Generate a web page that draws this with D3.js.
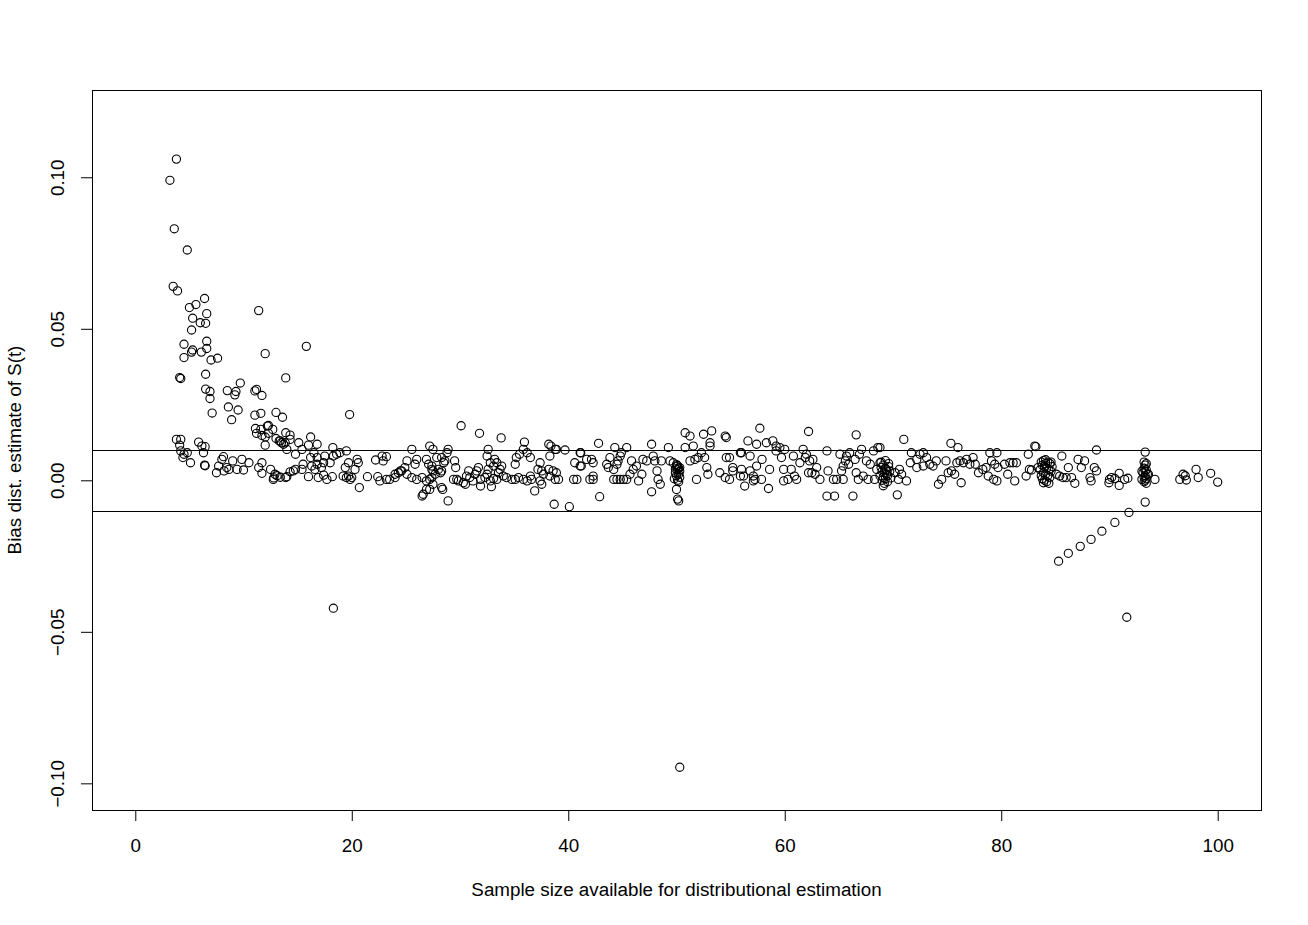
<!DOCTYPE html>
<html>
<head>
<meta charset="utf-8">
<script src="https://cdn.jsdelivr.net/npm/d3@7"></script>
<style>
  body { margin: 0; background: #fff; }
  text { font-family: "Liberation Sans", Arial, Helvetica, sans-serif; }
</style>
</head>
<body>
<div id="chart"></div>
<script>

// [sample size, bias]
var steepPts = [
  [3.8,0.106],[3.2,0.099],[3.6,0.083],[4.8,0.076],[3.5,0.064],[3.9,0.0625],[6.4,0.060],[5.6,0.058],
  [5.0,0.057],[6.6,0.055],[11.4,0.056],[5.3,0.0535],[6.0,0.052],[6.5,0.0518],[5.2,0.0496],[6.6,0.0459],
  [4.5,0.0449],[6.6,0.0435],[5.3,0.043],[5.2,0.0423],[6.1,0.0423],[4.5,0.0405],[7.0,0.0397],[7.6,0.0403],
  [12.0,0.0418],[15.8,0.0442],[6.5,0.035],[4.1,0.0339],[4.2,0.0336],[13.9,0.0338],[6.5,0.0301],[6.9,0.0293],
  [6.9,0.027],[8.5,0.0296],[9.2,0.0282],[9.3,0.0293],[9.7,0.0321],[11.05,0.0295],[11.2,0.030],[11.7,0.028],
  [7.1,0.0222],[8.6,0.0242],[9.5,0.0232],[8.9,0.020],[11.05,0.0215],[11.6,0.0221],[13.0,0.0224],[13.6,0.0208],
  [19.8,0.0217],[11.1,0.0171],[11.6,0.0168],[12.2,0.0179],[12.7,0.0168],[12.3,0.0181],[13.9,0.0157],[14.3,0.0149],
  [16.2,0.0143],[11.2,0.0155],[11.7,0.0148],[12.3,0.0155],[12.0,0.0143],[12.0,0.0116],[13.0,0.0138],[13.3,0.013],
  [13.5,0.0124],[13.85,0.0124],[14.0,0.0102],[14.3,0.0135],[3.8,0.0135],[4.2,0.0135],[4.1,0.0116],[4.2,0.0097],
  [4.5,0.0086],[4.8,0.0091],[5.1,0.0058],[4.4,0.0075],[5.85,0.0126],[6.15,0.0113],[6.45,0.0111],[6.3,0.0091],
  [6.4,0.005],[6.45,0.0048],[8.15,0.0078],[8.0,0.0069],[7.7,0.0047],[7.5,0.0025],[8.2,0.0031],[8.45,0.0042],
  [8.65,0.0036],[9.0,0.0064],[9.4,0.0036],[9.85,0.0069],[10.0,0.0034],[10.5,0.0058],[11.4,0.0042],[11.7,0.0058],
  [11.7,0.0023],[12.5,0.0036],[12.9,0.002],[12.75,0.0003],[13.4,0.001],[13.1,0.0015],[13.9,0.0009],[12.8,0.0008]
];

var bandLeftPts = [
  [13.4,0.013],[13.7,0.0119],[15.1,0.0124],[15.4,0.0102],[14.8,0.0086],[16.0,0.0116],[16.8,0.0119],[16.5,0.0091],
  [16.8,0.0075],[18.25,0.0108],[18.6,0.0086],[18.3,0.008],[18.9,0.0091],[19.5,0.0097],[17.5,0.008],[17.4,0.0058],
  [18.0,0.0058],[17.2,0.0042],[16.8,0.0053],[16.3,0.0047],[16.2,0.0075],[15.5,0.0053],[15.4,0.0036],[14.6,0.0031],
  [14.8,0.0036],[14.3,0.0028],[14.0,0.0012],[16.0,0.0012],[16.6,0.0036],[16.9,0.0009],[17.4,0.0017],[17.7,0.0003],
  [18.2,0.0012],[19.2,0.0014],[19.5,0.0009],[19.7,0.0014],[19.85,0.0003],[20.0,0.0009],[19.4,0.0042],[19.7,0.0058],
  [20.5,0.0069],[20.6,0.0058],[20.3,0.0036],[20.7,-0.0024],[21.45,0.0012],[22.4,0.0012],[22.6,-0.0002],[23.2,0.0003],
  [24.0,0.002],[24.5,0.0031],[24.9,0.0042],[25.1,0.0064],[25.55,0.0102],[26.0,0.0069],[25.85,0.0053],[22.2,0.0067],
  [22.8,0.008],[23.2,0.0078],[22.9,0.0064],[23.5,0.0003],[24.0,0.0009],[24.3,0.0025],[24.6,0.0031],[25.1,0.002],
  [25.55,0.0009],[26.0,0.0003],[26.5,0.0009],[26.9,-0.0002],[27.4,0.0009],[27.5,-0.0013],[26.9,-0.003],[26.6,-0.0046],
  [26.5,-0.0052],[27.2,0.0113],[27.5,0.0102],[26.9,0.0069],[27.1,0.0053],[27.4,0.0047],[27.85,0.0075],[28.0,0.0036],
  [27.5,0.0031],[27.7,0.002],[28.9,0.0102],[28.8,0.0091],[28.3,0.0075],[28.5,0.0058],[28.6,0.0064],[29.5,0.0064],
  [29.6,0.0042],[28.3,0.0031],[28.2,0.0025],[27.4,0.0036],[27.2,0.0003],[27.2,-0.003],[28.3,-0.0024],[28.4,-0.003],
  [28.9,-0.0068],[30.1,0.018],[31.8,0.0155],[33.8,0.014],[35.95,0.0126],[38.2,0.0119],[38.4,0.0113],[38.8,0.0102],
  [39.7,0.010],[41.15,0.0091],[38.7,-0.0079],[40.1,-0.0087],[29.4,0.0003],[29.7,0.0003],[29.85,-0.0002],[30.3,-0.0008],
  [30.5,-0.0013],[30.6,0.0014],[30.8,0.0031],[30.9,0.0009],[31.2,-0.0002],[31.4,0.002],[31.55,0.0031],[31.7,0.0042],
  [31.9,0.0003],[31.9,-0.0019],[32.3,0.0009],[32.5,0.002],[32.6,0.0036],[32.8,-0.0002],[32.9,-0.0021],[33.1,0.0006],
  [33.4,0.0003],[33.55,0.0025],[33.7,0.0036],[33.1,0.0047],[32.8,0.0058],[32.5,0.008],[32.6,0.0102],[33.2,0.0069],
  [33.4,0.0058],[33.85,0.0047],[34.0,0.0014],[34.3,0.0009],[34.8,0.0003],[35.1,0.0003],[35.4,0.0009],[35.85,0.0003],
  [36.2,-0.0002],[36.5,0.0014],[36.6,0.0003],[36.5,0.0075],[36.2,0.0091],[35.85,0.0102],[35.5,0.0086],[35.2,0.0075],
  [35.1,0.0053],[37.4,0.0058],[37.2,0.0036],[37.55,0.0031],[37.7,0.002],[37.55,-0.0013],[36.9,-0.0035],[37.4,-0.0002],
  [38.2,0.0036],[38.3,0.0014],[38.6,0.0031],[38.8,0.0003],[38.9,0.0025],[39.1,0.0003],[38.3,0.008],[38.9,0.0102],
  [40.5,0.0003],[40.8,0.0003],[40.6,0.0058],[41.1,0.0047],[41.7,0.0069],[42.0,0.0003]
];

var bandMidPts = [
  [42.8,0.0122],[41.1,0.0091],[41.2,0.0047],[42.15,0.0069],[42.3,0.0058],[42.3,0.0014],[42.3,0.0003],[42.9,-0.0054],
  [43.55,0.0053],[43.85,0.0075],[43.7,0.0042],[44.2,0.0036],[44.5,0.0053],[44.6,0.0064],[44.8,0.008],[44.9,0.0091],
  [44.3,0.0108],[45.4,0.0108],[45.85,0.0064],[44.2,0.0003],[44.5,0.0003],[44.8,0.0003],[45.1,0.0003],[45.4,0.0003],
  [45.7,0.002],[46.0,0.0036],[46.3,0.0047],[46.5,-0.0002],[46.8,0.002],[46.9,0.0069],[47.25,0.0064],[47.7,0.0119],
  [47.85,0.008],[48.0,0.0064],[48.2,0.0031],[48.3,0.0003],[48.5,-0.0013],[47.7,-0.0038],[48.6,0.0064],[49.25,0.0108],
  [49.4,0.0064],[49.7,0.0058],[50.8,0.0157],[51.25,0.0146],[50.8,0.0108],[51.55,0.0113],[51.25,0.0064],[51.7,0.0069],
  [51.85,0.0003],[52.0,0.0075],[52.3,0.0091],[52.5,0.0152],[52.6,0.0075],[52.8,0.0042],[52.9,0.002],[53.1,0.0113],
  [53.25,0.0163],[53.1,0.0124],[54.5,0.0146],[54.6,0.0141],[54.6,0.0075],[54.0,0.0025],[54.5,0.0009],[54.9,0.0003],
  [55.2,0.0031],[55.9,0.0014],[55.9,0.0091],[57.7,0.0172],[62.2,0.0161],[66.6,0.015],[56.6,0.013],[57.4,0.0119],
  [58.3,0.0124],[58.9,0.013],[59.2,0.0113],[59.55,0.0108],[60.0,0.0102],[56.0,0.0091],[56.8,0.008],[57.9,0.0069],
  [54.9,0.0075],[55.2,0.0042],[56.0,0.0036],[56.2,0.0014],[56.3,-0.0019],[56.8,0.0031],[57.1,0.0014],[57.25,0.0003],
  [57.4,0.0047],[57.1,-0.0002],[57.85,0.0003],[58.6,0.0036],[58.5,-0.0027],[59.2,0.0097],[59.7,0.0075],[59.9,0.0036],
  [59.9,-0.0002],[60.3,0.0003],[60.6,0.0036],[60.8,0.008],[60.9,0.0014],[61.1,0.0003],[61.4,0.0058],[61.7,0.0102],
  [61.9,0.0075],[62.0,0.0086],[62.2,0.0025],[62.3,0.0064],[62.6,0.0069],[62.5,0.0025],[62.8,0.002],[62.95,0.0042],
  [63.25,0.0003],[63.9,0.0097],[64.0,0.0031],[63.9,-0.0052],[64.6,-0.0052],[64.5,0.0003],[64.8,0.0003],[65.1,0.0086],
  [65.25,0.0031],[65.4,0.0003],[65.4,0.0047],[65.6,0.0064],[65.7,0.008],[65.9,0.0053],[66.0,0.0091],[66.3,-0.0052],
  [66.5,0.0069],[66.6,0.0025],[66.8,0.0003],[66.9,0.0086],[67.1,0.0102],[67.25,0.0014],[67.55,0.0064],[67.7,0.0003],
  [67.9,0.0053],[68.2,0.0097],[68.3,0.0003],[68.5,0.0036],[68.6,0.0108],[68.8,0.0058]
];

var bandRightPts = [
  [71.0,0.0135],[68.8,0.0108],[75.35,0.0122],[76.0,0.0108],[83.1,0.0113],[82.5,0.0086],[70.4,-0.0048],
  [71.7,0.0091],[72.5,0.0086],[72.8,0.0091],[72.2,0.0069],[73.1,0.0075],[71.6,0.0058],[70.6,0.0036],[70.8,0.002],
  [71.25,-0.0002],[70.5,0.0003],[70.2,0.0025],[72.2,0.0042],[72.8,0.0047],[73.4,0.0053],[73.7,0.0047],[74.0,0.0064],
  [74.2,-0.0013],[74.5,0.0003],[74.9,0.0064],[75.1,0.0025],[75.4,0.0031],[75.7,0.002],[75.9,0.0058],[76.2,0.0064],
  [76.3,-0.0008],[76.5,0.0058],[76.8,0.0069],[77.1,0.0053],[77.4,0.0075],[77.6,0.0053],[77.9,0.0025],[78.3,0.0036],
  [78.6,0.0042],[78.8,0.0014],[78.95,0.0091],[79.1,0.0064],[79.4,0.0053],[79.6,0.0091],[79.6,-0.0002],[79.3,0.0003],
  [79.7,0.0042],[80.3,0.0053],[80.8,0.0058],[80.6,0.002],[81.1,0.0058],[81.25,-0.0002],[81.4,0.0058],[82.3,0.0014],
  [82.6,0.0036],[83.4,0.0042],[83.2,0.0111],[82.8,0.0034],[85.6,0.008],[85.1,0.002],[85.4,0.0014],[85.7,0.0009],
  [86.0,0.0009],[86.2,0.0042],[86.5,0.0009],[86.8,-0.001],[87.1,0.0069],[87.4,0.0042],[87.7,0.0064],[88.2,0.0009],
  [88.3,-0.0002],[88.6,0.0042],[88.8,0.0031],[88.8,0.01],[90.0,0.0003],[90.2,0.0009],[90.5,0.0006],[90.9,0.0023],
  [90.9,-0.0017],[91.4,0.0003],[91.7,0.0007],[89.95,-0.0008],[94.2,0.0003],[93.0,0.003],[93.0,0.0003],[96.5,0.0003],
  [96.8,0.002],[97.0,0.0015],[97.1,0.0001],[98.0,0.0036],[98.2,0.0009],[99.35,0.0023],[100.0,-0.0006]
];

// dense stacks at the same sample size
var clusterPts = [
  [50.0,0.0045],[50.2,0.004],[50.1,0.0035],[50.3,0.003],[49.9,0.0025],[50.2,0.002],[50.0,0.0015],[50.3,0.001],
  [49.8,0.0005],[50.1,0.0],[50.2,-0.0005],[49.9,0.0038],[50.3,0.0042],[50.1,0.0048],[50.0,0.0052],[50.0,-0.003],
  [50.1,-0.0062],[50.2,-0.0068],
  [68.9,0.006],[69.1,0.005],[69.3,0.004],[69.0,0.003],[69.2,0.0025],[69.4,0.002],[68.8,0.0015],[69.1,0.001],
  [69.3,0.0005],[69.0,0.0],[69.5,-0.0005],[69.2,-0.001],[69.4,0.0035],[69.6,0.0045],[68.9,0.0042],[69.7,0.003],
  [69.5,0.0015],[69.1,-0.0018],[69.6,0.0055],[69.3,0.0065],[69.8,0.0008],
  [83.7,0.006],[83.9,0.0065],[84.1,0.0068],[84.3,0.006],[84.5,0.0055],[83.8,0.005],[84.0,0.0045],[84.2,0.004],
  [84.4,0.0035],[84.6,0.003],[83.9,0.0025],[84.1,0.002],[84.3,0.0015],[84.5,0.001],[83.8,0.0005],[84.0,0.0],
  [84.2,-0.0005],[84.4,-0.001],[83.6,0.0035],[84.7,0.0045],[83.7,0.0015],[84.6,0.006],[84.1,0.0055],[83.9,-0.0008],
  [93.3,0.0093],[93.2,0.006],[93.4,0.0055],[93.3,0.005],[93.2,0.004],[93.4,0.0035],[93.3,0.003],[93.1,0.0025],
  [93.5,0.002],[93.3,0.0015],[93.2,0.001],[93.4,0.0005],[93.3,0.0],[93.2,-0.0005],[93.4,-0.001],[93.3,-0.0072],
  [93.6,0.002]
];

var outlierPts = [
  [50.3,-0.0947],[18.3,-0.0422],[91.6,-0.0452],[85.3,-0.0267],[86.2,-0.0241],[87.3,-0.0218],[88.3,-0.0195],
  [89.3,-0.0168],[90.5,-0.0139],[91.8,-0.0106]
];

var xTicks = [0, 20, 40, 60, 80, 100];
var yTicks = [-0.10, -0.05, 0.00, 0.05, 0.10];
var refLines = [0.01, -0.01];
var xTitle = "Sample size available for distributional estimation";
var yTitle = "Bias dist. estimate of S(t)";

(function(){

  var width = 1308, height = 925;
  var box = {left: 92, top: 90, right: 1261, bottom: 810};
  var fontSize = "18.8px";

  var x = d3.scaleLinear().domain([-4, 104]).range([box.left, box.right]);
  var y = d3.scaleLinear().domain([-0.1088, 0.1288]).range([box.bottom, box.top]);

  var svg = d3.select("#chart").append("svg")
      .attr("width", width)
      .attr("height", height);

  svg.append("rect")
      .attr("width", width).attr("height", height).attr("fill", "#fff");

  // axes: ticks only, the box stands in for the axis line
  var xAxis = svg.append("g")
      .attr("transform", "translate(0," + box.bottom + ")")
      .call(d3.axisBottom(x).tickValues(xTicks).tickSize(11).tickFormat(d3.format("d")));
  xAxis.select(".domain").remove();
  xAxis.selectAll("line").attr("stroke", "#000");
  xAxis.selectAll("text")
      .attr("y", 35).attr("dy", "0.35em")
      .attr("fill", "#000")
      .style("font-size", fontSize);

  var yAxis = svg.append("g")
      .attr("transform", "translate(" + box.left + ",0)")
      .call(d3.axisLeft(y).tickValues(yTicks).tickSize(11).tickFormat(d3.format(".2f")));
  yAxis.select(".domain").remove();
  yAxis.selectAll("line").attr("stroke", "#000");
  yAxis.selectAll("text")
      .attr("x", null).attr("dy", "0.35em")
      .attr("transform", "translate(-35,0) rotate(-90)")
      .attr("text-anchor", "middle")
      .attr("fill", "#000")
      .style("font-size", fontSize);

  svg.append("text")
      .attr("x", (box.left + box.right) / 2)
      .attr("y", 889)
      .attr("dy", "0.35em")
      .attr("text-anchor", "middle")
      .style("font-size", fontSize)
      .text(xTitle);

  svg.append("text")
      .attr("transform", "translate(14," + ((box.top + box.bottom) / 2) + ") rotate(-90)")
      .attr("dy", "0.35em")
      .attr("text-anchor", "middle")
      .style("font-size", fontSize)
      .text(yTitle);

  // reference lines at +/- 0.01
  svg.selectAll(".ref")
      .data(refLines)
    .enter().append("line")
      .attr("class", "ref")
      .attr("x1", box.left).attr("x2", box.right)
      .attr("y1", function(d){ return Math.round(y(d)) + 0.5; })
      .attr("y2", function(d){ return Math.round(y(d)) + 0.5; })
      .attr("stroke", "#000")
      .attr("stroke-width", 1);

  var allPts = steepPts.concat(bandLeftPts, bandMidPts, bandRightPts, clusterPts, outlierPts);

  svg.append("g").selectAll("circle")
      .data(allPts)
    .enter().append("circle")
      .attr("cx", function(d){ return x(d[0]); })
      .attr("cy", function(d){ return y(d[1]); })
      .attr("r", 4.1)
      .attr("fill", "none")
      .attr("stroke", "#000")
      .attr("stroke-width", 1.1);

  svg.append("rect")
      .attr("x", box.left + 0.5).attr("y", box.top + 0.5)
      .attr("width", box.right - box.left)
      .attr("height", box.bottom - box.top)
      .attr("fill", "none")
      .attr("stroke", "#000")
      .attr("stroke-width", 1);

})();
</script>
</body>
</html>
